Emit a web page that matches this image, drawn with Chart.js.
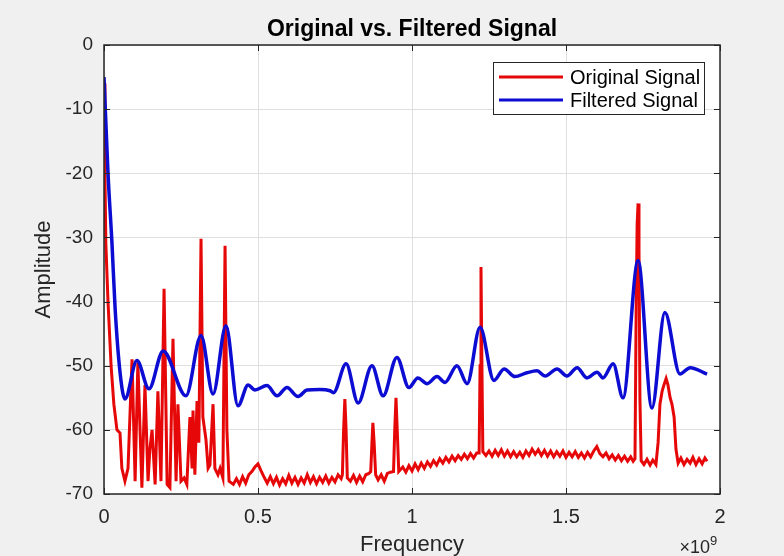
<!DOCTYPE html>
<html>
<head>
<meta charset="utf-8">
<script src="https://cdn.jsdelivr.net/npm/chart.js@4.4.1/dist/chart.umd.min.js"></script>
<style>
  html, body { margin: 0; padding: 0; background: #f0f0f0; }
</style>
</head>
<body>
<canvas id="spectrum" width="784" height="556"></canvas>
<script>
// frequencies are in units of 1e9 (the axis shows the x10^9 factor)
const redFreq = [
  0, 0.003, 0.006, 0.013, 0.023, 0.032, 0.042, 0.052, 0.058, 0.068,
  0.078, 0.091, 0.101, 0.110, 0.123, 0.133, 0.143, 0.149, 0.156, 0.166,
  0.175, 0.185, 0.195, 0.205, 0.214, 0.224, 0.234, 0.240, 0.250, 0.260,
  0.269, 0.279, 0.286, 0.289, 0.295, 0.302, 0.308, 0.315, 0.321, 0.331,
  0.338, 0.344, 0.354, 0.360, 0.370, 0.377, 0.386, 0.393, 0.399, 0.406,
  0.42, 0.43, 0.44, 0.45, 0.46, 0.47, 0.48, 0.49, 0.50, 0.51,
  0.52, 0.53, 0.54, 0.55, 0.56, 0.57, 0.58, 0.59, 0.60, 0.61,
  0.62, 0.63, 0.64, 0.65, 0.66, 0.67, 0.68, 0.69, 0.70, 0.71,
  0.72, 0.73, 0.74, 0.75, 0.76, 0.77,
  0.774, 0.778, 0.782, 0.786, 0.790, 0.80, 0.81, 0.82, 0.83, 0.84, 0.85, 0.86,
  0.866, 0.870, 0.873, 0.877, 0.882, 0.89, 0.90, 0.91, 0.92, 0.93,
  0.940, 0.944, 0.948, 0.952, 0.957,
  0.97, 0.98, 0.99, 1.00, 1.01, 1.02, 1.03, 1.04, 1.05, 1.06,
  1.07, 1.08, 1.09, 1.10, 1.11, 1.12, 1.13, 1.14, 1.15, 1.16,
  1.17, 1.18, 1.19, 1.20, 1.21,
  1.218, 1.221, 1.224, 1.227, 1.230,
  1.24, 1.25, 1.26, 1.27, 1.28, 1.29, 1.30, 1.31, 1.32, 1.33,
  1.34, 1.35, 1.36, 1.37, 1.38, 1.39, 1.40, 1.41, 1.42, 1.43,
  1.44, 1.45, 1.46, 1.47, 1.48, 1.49, 1.50, 1.51, 1.52, 1.53,
  1.54, 1.55, 1.56, 1.57, 1.58, 1.59,
  1.60, 1.61, 1.62, 1.63, 1.64, 1.65, 1.66, 1.67, 1.68, 1.69, 1.70, 1.71,
  1.718, 1.724, 1.728, 1.731, 1.734, 1.737, 1.740, 1.744, 1.753, 1.763,
  1.773, 1.782, 1.792, 1.799, 1.805, 1.812, 1.818, 1.825, 1.831, 1.838,
  1.844, 1.851, 1.857, 1.864, 1.873, 1.883, 1.893, 1.903, 1.912, 1.922,
  1.932, 1.942, 1.951, 1.958
];
const redAmp = [
  -6, -20, -31, -40, -50, -56, -60, -60.5, -66, -68,
  -66, -49, -68, -49.5, -69, -53, -68, -63, -60, -68.5,
  -54, -68, -38, -68.5, -69, -45.8, -68, -56, -68, -67.5,
  -68.5, -58, -66, -57, -67, -55.5, -62, -30.2, -58, -61.5,
  -66, -65.5, -56, -66, -67, -66, -67.5, -31.3, -60, -68,
  -68.5, -67.6, -68.5, -67.3, -68.3, -67, -66.5, -65.8, -65.3, -66.4,
  -67.4, -68.3, -67.3, -68.4, -67.4, -68.6, -67.6, -68.4, -67.1, -68.3,
  -67.4, -68.5, -67.5, -68.3, -67, -68.2, -67.3, -68.4, -67.4, -68.2,
  -67.2, -68.3, -67.4, -68.1, -67, -67.6,
  -67, -60, -55.2, -60, -67.5, -68, -67.1, -68.2, -67.2, -68.1, -67, -66.8,
  -66.5, -62, -58.9, -62, -67, -67.8, -67, -68, -66.8, -66.6,
  -66.5, -60, -55, -60, -66.5,
  -65.8, -66.6, -65.6, -66.4, -65.3, -66.2, -65.2, -66, -65, -65.7,
  -64.8, -65.5, -64.5, -65.2, -64.3, -65, -64.1, -64.8, -64, -64.6,
  -63.8, -64.5, -63.7, -64.4, -63.6,
  -63.6, -50, -34.6, -50, -63.4,
  -64, -63.3, -64.1, -63.2, -64, -63.1, -64.1, -63.3, -64.2, -63.4,
  -64.2, -63.5, -64.3, -63.3, -64, -63, -63.8, -63.1, -64, -63.2,
  -64.1, -63.3, -64.2, -63.4, -64.1, -63.3, -64.3, -63.5, -64.2, -63.4,
  -64.3, -63.6, -64.4, -63.5, -64.2, -63.3,
  -62.6, -63.7, -64.2, -63.6, -64.5, -63.9, -64.7, -64, -64.8, -64.1, -64.9, -64.2,
  -64.9, -64.5, -40, -28, -24.7, -32, -55, -64.8, -65.4, -64.6,
  -65.5, -64.7, -65.4, -62, -56, -54, -53, -52, -53, -55,
  -56, -58, -63, -65.2, -64.4, -65.4, -64.6, -65.2, -64.3, -65.4,
  -64.5, -65.3, -64.4, -64.9
];

const blueFreq = [
  0, 0.013, 0.026, 0.036, 0.052, 0.068, 0.107, 0.146, 0.192, 0.266,
  0.315, 0.354, 0.396, 0.435, 0.468, 0.490, 0.529, 0.562, 0.594, 0.630,
  0.659, 0.700, 0.734, 0.745, 0.786, 0.825, 0.870, 0.906, 0.951, 0.990,
  1.019, 1.049, 1.081, 1.107, 1.146, 1.179, 1.221, 1.266, 1.299, 1.334,
  1.373, 1.406, 1.432, 1.471, 1.503, 1.536, 1.568, 1.601, 1.620, 1.653,
  1.685, 1.734, 1.779, 1.821, 1.870, 1.903, 1.958
];
const blueAmp = [
  -5, -20, -31, -41, -51, -55.2, -49.2, -53.6, -47.7, -54.7,
  -45.3, -54.4, -43.75, -56.25, -53, -53.8, -53.1, -54.7, -53.4, -54.8,
  -53.8, -53.7, -53.9, -54.2, -49.7, -55.8, -50, -54.7, -48.7, -53.4,
  -51.9, -52.8, -51.7, -52.6, -50, -52.8, -44, -52.3, -50.5, -51.7,
  -51.1, -50.8, -51.6, -50.5, -51.6, -50.3, -51.9, -51, -51.9, -49.7,
  -55, -33.6, -56.6, -41.7, -51.3, -50.3, -51.3
];

const xTicks = [0, 0.5, 1, 1.5, 2];
const yTicks = [-70, -60, -50, -40, -30, -20, -10, 0];

const FONT = "'Liberation Sans', Arial, sans-serif";
const INK = '#262626';

const toPoints = (xs, ys) => xs.map((x, i) => ({ x, y: ys[i] }));

const matlabAxes = {
  id: 'matlabAxes',
  beforeDraw(chart) {
    const { ctx, chartArea: a } = chart;
    ctx.save();
    ctx.fillStyle = '#f0f0f0';
    ctx.fillRect(0, 0, chart.width, chart.height);
    ctx.fillStyle = '#ffffff';
    ctx.fillRect(a.left, a.top, a.right - a.left, a.bottom - a.top);
    ctx.restore();
  },
  afterDraw(chart) {
    const { ctx, chartArea: a, scales } = chart;
    ctx.save();
    ctx.strokeStyle = INK;
    ctx.lineWidth = 1;
    // inward tick marks on all four sides
    ctx.beginPath();
    xTicks.forEach((v) => {
      const px = Math.round(scales.x.getPixelForValue(v)) + 0.5;
      ctx.moveTo(px, a.bottom); ctx.lineTo(px, a.bottom - 6);
      ctx.moveTo(px, a.top); ctx.lineTo(px, a.top + 6);
    });
    yTicks.forEach((v) => {
      const py = Math.round(scales.y.getPixelForValue(v)) + 0.5;
      ctx.moveTo(a.left, py); ctx.lineTo(a.left + 6, py);
      ctx.moveTo(a.right, py); ctx.lineTo(a.right - 6, py);
    });
    ctx.stroke();
    ctx.lineWidth = 1.5;
    ctx.strokeRect(a.left, a.top, a.right - a.left, a.bottom - a.top);

    // title, centred over the axes
    ctx.fillStyle = '#000000';
    ctx.font = 'bold 23px ' + FONT;
    ctx.textAlign = 'center';
    ctx.textBaseline = 'middle';
    ctx.fillText('Original vs. Filtered Signal', (a.left + a.right) / 2, 30);

    // legend box (top right, inside the axes)
    const lx = 493, ly = 62, lw = 211, lh = 52;
    ctx.fillStyle = '#ffffff';
    ctx.fillRect(lx, ly, lw, lh);
    ctx.lineWidth = 1;
    ctx.strokeStyle = INK;
    ctx.strokeRect(lx + 0.5, ly + 0.5, lw, lh);
    ctx.font = '20px ' + FONT;
    ctx.textBaseline = 'middle';
    ctx.textAlign = 'left';
    chart.data.datasets.forEach((ds, i) => {
      const y = ly + 15 + i * 23;
      ctx.strokeStyle = ds.borderColor;
      ctx.lineWidth = 3;
      ctx.beginPath();
      ctx.moveTo(lx + 6, y);
      ctx.lineTo(lx + 70, y);
      ctx.stroke();
      ctx.fillStyle = '#000000';
      ctx.fillText(ds.label, lx + 77, y + 1);
    });

    // exponent label under the right end of the x axis
    ctx.fillStyle = INK;
    ctx.textAlign = 'right';
    ctx.textBaseline = 'alphabetic';
    ctx.font = '18px ' + FONT;
    ctx.fillText('\u00d710', a.right - 10, 553);
    ctx.font = '13px ' + FONT;
    ctx.textAlign = 'left';
    ctx.fillText('9', a.right - 10, 545);
    ctx.restore();
  }
};

new Chart(document.getElementById('spectrum'), {
  type: 'line',
  data: {
    datasets: [
      {
        label: 'Original Signal',
        data: toPoints(redFreq, redAmp),
        borderColor: 'rgb(230, 8, 8)',
        borderWidth: 3,
        pointRadius: 0,
        tension: 0,
        order: 1,
      },
      {
        label: 'Filtered Signal',
        data: toPoints(blueFreq, blueAmp),
        borderColor: 'rgb(12, 12, 210)',
        borderWidth: 3.5,
        pointRadius: 0,
        cubicInterpolationMode: 'monotone',
        order: 0,
      },
    ],
  },
  options: {
    responsive: false,
    animation: false,
    layout: { padding: { left: 0, right: 64, top: 45, bottom: 0 } },
    plugins: {
      legend: { display: false },
      tooltip: { enabled: false },
      title: { display: false },
    },
    scales: {
      x: {
        type: 'linear',
        min: 0,
        max: 2,
        afterBuildTicks: (s) => { s.ticks = xTicks.map((v) => ({ value: v })); },
        afterFit: (s) => { s.height = 62; },
        grid: { color: '#dfdfdf', drawTicks: false },
        border: { display: false },
        ticks: {
          color: INK,
          padding: 11,
          font: { family: FONT, size: 20 },
          callback: (v) => String(v),
        },
        title: {
          display: true,
          text: 'Frequency',
          color: INK,
          font: { family: FONT, size: 22, lineHeight: 1 },
          padding: { top: 0, bottom: 0 },
        },
      },
      y: {
        type: 'linear',
        min: -70,
        max: 0,
        afterBuildTicks: (s) => { s.ticks = yTicks.map((v) => ({ value: v })); },
        afterFit: (s) => { s.width = 104; },
        grid: { color: '#dfdfdf', drawTicks: false },
        border: { display: false },
        ticks: {
          color: INK,
          padding: 11,
          font: { family: FONT, size: 19 },
          callback: (v) => String(v),
        },
        title: {
          display: true,
          text: 'Amplitude',
          color: INK,
          font: { family: FONT, size: 22, lineHeight: 1 },
          padding: { top: 33, bottom: 0 },
        },
      },
    },
  },
  plugins: [matlabAxes],
});
</script>
</body>
</html>
